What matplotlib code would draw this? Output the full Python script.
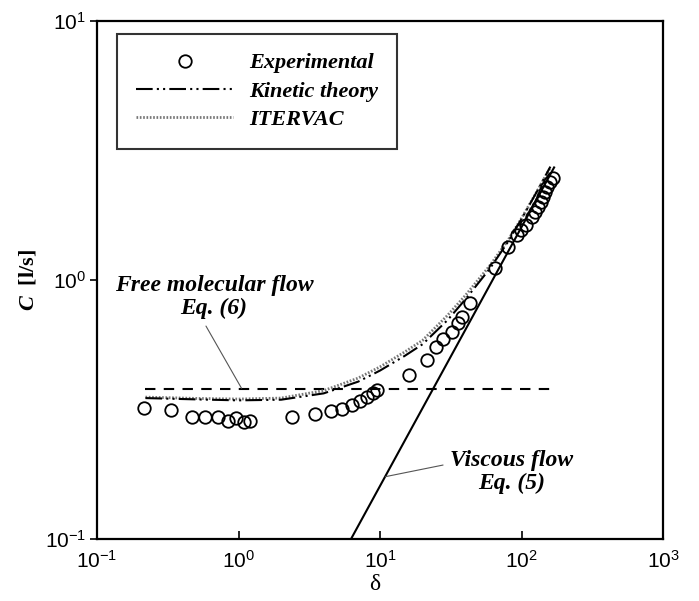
import matplotlib
matplotlib.use("Agg")
import matplotlib.pyplot as plt
import numpy as np

plt.rcParams['mathtext.fontset'] = 'custom'
plt.rcParams['mathtext.rm'] = 'Liberation Serif'
plt.rcParams['mathtext.bfit'] = 'Liberation Serif:italic:bold'

# experimental points
delta_exp = [0.216, 0.332, 0.472, 0.582, 0.713, 0.848, 0.959, 1.094, 1.206,
             2.38, 3.47, 4.48, 5.36, 6.31, 7.22, 8.05, 8.88, 9.57,
             16.1, 21.4, 24.9, 28.0, 32.1, 35.7, 37.8, 43.3,
             65.0, 80.7, 93.4, 98.7, 107.6, 118, 124.5, 131.5, 136.7,
             141.3, 146.6, 152, 159, 166]
C_exp = [0.320, 0.314, 0.297, 0.297, 0.297, 0.286, 0.292, 0.284, 0.286,
         0.297, 0.303, 0.312, 0.318, 0.329, 0.341, 0.354, 0.367, 0.376,
         0.429, 0.491, 0.550, 0.593, 0.632, 0.684, 0.721, 0.813,
         1.110, 1.337, 1.49, 1.56, 1.63, 1.755, 1.835, 1.92, 2.005,
         2.10, 2.19, 2.29, 2.40, 2.47]

# kinetic theory
delta_kin = [0.22, 0.5, 1.0, 2.0, 4.0, 7.0, 10, 15, 20, 30, 40, 60, 80, 100, 130, 160]
C_kin = [0.350, 0.346, 0.343, 0.345, 0.365, 0.405, 0.447, 0.51, 0.565, 0.70,
         0.84, 1.11, 1.40, 1.72, 2.22, 2.74]

# ITERVAC
delta_itv = [0.22, 0.5, 1.0, 2.0, 4.0, 7.0, 10, 15, 20, 30, 40, 60, 80, 100, 130, 160]
C_itv = [0.353, 0.349, 0.347, 0.350, 0.374, 0.418, 0.462, 0.528, 0.585, 0.73,
         0.87, 1.14, 1.42, 1.73, 2.22, 2.72]

# free molecular (Eq. 6) and viscous (Eq. 5)
delta_fm = [0.22, 165]
C_fm = [0.38, 0.38]
delta_visc = [6.24, 170]
C_visc = [0.1, 2.72]

fig = plt.figure(figsize=(6.99, 6.01), dpi=100)
ax = fig.add_axes([97/699, 1-539/601, 566/699, 518/601])

ax.plot(delta_fm, C_fm, color='black', lw=1.5, linestyle=(0, (5, 4)))
ax.plot(delta_visc, C_visc, color='black', lw=1.5)
ax.plot(delta_itv, C_itv, color='#777777', lw=2.0, linestyle=(0, (0.6, 0.6)),
        label='ITERVAC')
ax.plot(delta_kin, C_kin, color='black', lw=1.5,
        linestyle=(0, (8, 2, 1, 2, 1, 2)), label='Kinetic theory')
ax.plot(delta_exp, C_exp, 'o', mfc='none', mec='black', ms=9, mew=1.3,
        label='Experimental')

ax.set_xscale('log')
ax.set_yscale('log')
ax.set_xlim(0.1, 1000)
ax.set_ylim(0.1, 10)

ax.set_xticks([0.1, 1, 10, 100, 1000])
ax.set_xticklabels([r'$\mathregular{10^{-1}}$', r'$\mathregular{10^{0}}$',
                    r'$\mathregular{10^{1}}$', r'$\mathregular{10^{2}}$',
                    r'$\mathregular{10^{3}}$'], family='Liberation Sans', fontsize=15)
ax.set_yticks([0.1, 1, 10])
ax.set_yticklabels([r'$\mathregular{10^{-1}}$', r'$\mathregular{10^{0}}$',
                    r'$\mathregular{10^{1}}$'], family='Liberation Sans', fontsize=15)
ax.minorticks_off()
ax.tick_params(axis='x', direction='in', length=6, width=1.2, pad=8)
ax.tick_params(axis='y', direction='out', length=5, width=1.2, pad=3)
for s in ax.spines.values():
    s.set_linewidth(1.6)

ax.set_xlabel('δ', family='Liberation Serif', fontsize=17, labelpad=0)
ax.xaxis.set_label_coords(0.49, -0.068)
ax.set_ylabel(r'$\mathbfit{C}$  [l/s]', family='Liberation Serif',
              fontweight='bold', fontsize=16)
ax.yaxis.set_label_coords(-0.103, 0.5)

h, l = ax.get_legend_handles_labels()
order = [2, 1, 0]
leg = ax.legend([h[i] for i in order], [l[i] for i in order],
                loc='upper left', bbox_to_anchor=(0.035, 0.975),
                borderaxespad=0, fancybox=False, handlelength=4.4,
                handletextpad=0.7, borderpad=0.85, labelspacing=0.35,
                prop={'family': 'Liberation Serif', 'style': 'italic',
                      'weight': 'bold', 'size': 16})
leg.get_frame().set_edgecolor('black')
leg.get_frame().set_linewidth(1.5)

tfont = dict(family='Liberation Serif', style='italic', weight='bold', fontsize=17)
ax.text(0.67, 0.86, 'Free molecular flow\nEq. (6)', ha='center', va='center',
        multialignment='center', linespacing=1.1, **tfont)
ax.annotate('', xy=(1.05, 0.382), xytext=(0.589, 0.664),
            arrowprops=dict(arrowstyle='-', color='#555555', lw=0.8,
                            shrinkA=0, shrinkB=0))
ax.text(85.7, 0.182, 'Viscous flow\nEq. (5)', ha='center', va='center',
        multialignment='center', linespacing=1.1, **tfont)
ax.annotate('', xy=(10.9, 0.174), xytext=(27.9, 0.193),
            arrowprops=dict(arrowstyle='-', color='#555555', lw=0.8,
                            shrinkA=0, shrinkB=0))

fig.savefig('out.png', dpi=100)
